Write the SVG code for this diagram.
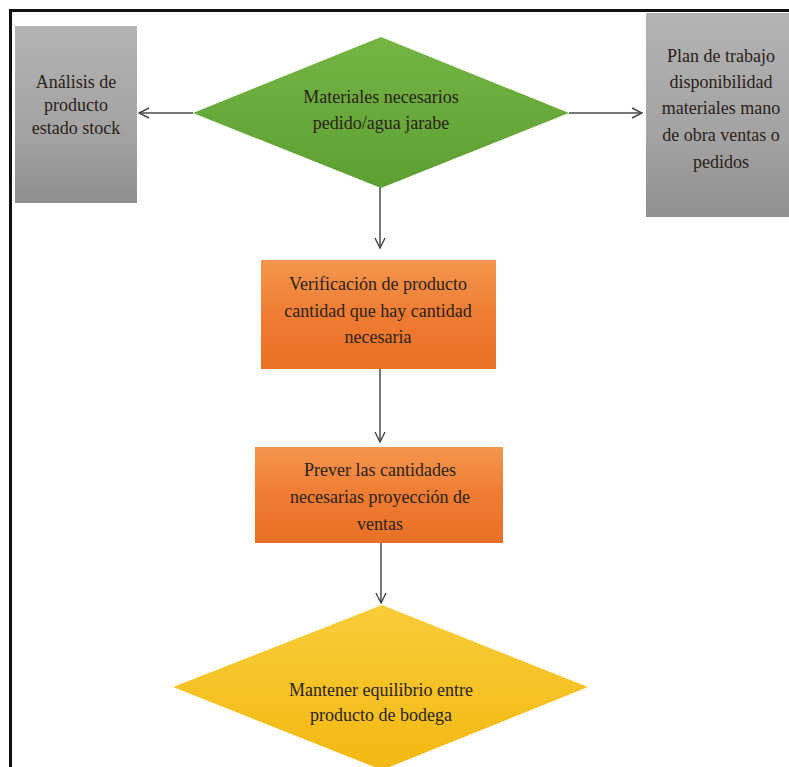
<svg xmlns="http://www.w3.org/2000/svg" width="789" height="767" viewBox="0 0 789 767">
  <defs>
    <linearGradient id="gGray" x1="0" y1="0" x2="0" y2="1">
      <stop offset="0" stop-color="#b3b3b3"/>
      <stop offset="0.6" stop-color="#a3a3a3"/>
      <stop offset="1" stop-color="#8f8f8f"/>
    </linearGradient>
    <linearGradient id="gGreen" x1="0" y1="0" x2="0" y2="1">
      <stop offset="0" stop-color="#74b545"/>
      <stop offset="1" stop-color="#5e9f33"/>
    </linearGradient>
    <linearGradient id="gOrange" x1="0" y1="0" x2="0" y2="1">
      <stop offset="0" stop-color="#f4974e"/>
      <stop offset="0.5" stop-color="#ef7c32"/>
      <stop offset="1" stop-color="#ea6f26"/>
    </linearGradient>
    <linearGradient id="gYellow" x1="0" y1="0" x2="0" y2="1">
      <stop offset="0" stop-color="#f9cd3a"/>
      <stop offset="1" stop-color="#f3b812"/>
    </linearGradient>
    <marker id="arr" viewBox="0 0 12 12" refX="11" refY="6" markerWidth="12" markerHeight="12" markerUnits="userSpaceOnUse" orient="auto">
      <path d="M1,1 L11,6 L1,11" fill="none" stroke="#444" stroke-width="1.4"/>
    </marker>
  </defs>
  <style>
    .edge { stroke: #4a4a4a; stroke-width: 1.5; fill: none; marker-end: url(#arr); }
  </style>

  <rect x="0" y="0" width="789" height="767" fill="#ffffff"/>
  <!-- frame: top and left rules -->
  <path d="M10.5,767 V10.5 H789" fill="none" stroke="#111" stroke-width="3"/>

  <g id="connectors">
    <line class="edge" x1="193" y1="113" x2="139" y2="113"/>
    <line class="edge" x1="569" y1="113" x2="642" y2="113"/>
    <line class="edge" x1="380" y1="187" x2="380" y2="248"/>
    <line class="edge" x1="380" y1="369" x2="380" y2="442"/>
    <line class="edge" x1="381" y1="543" x2="381" y2="603"/>
  </g>

  <g font-family="'Liberation Serif', 'Times New Roman', Tinos, serif" font-size="18" fill="#2b2218" text-anchor="middle">
    <g id="analisis">
      <rect x="15" y="26" width="122" height="177" fill="url(#gGray)"/>
      <text x="76" y="88">Análisis de</text>
      <text x="76" y="111">producto</text>
      <text x="76" y="134">estado stock</text>
    </g>

    <g id="materiales">
      <polygon points="381,37 569,113 381,188 193,113" fill="url(#gGreen)"/>
      <text x="381" y="103">Materiales necesarios</text>
      <text x="381" y="129">pedido/agua jarabe</text>
    </g>

    <g id="plan">
      <rect x="646" y="13" width="150" height="204" fill="url(#gGray)"/>
      <text x="721" y="62">Plan de trabajo</text>
      <text x="721" y="88">disponibilidad</text>
      <text x="721" y="114">materiales mano</text>
      <text x="721" y="141">de obra ventas o</text>
      <text x="721" y="168">pedidos</text>
    </g>

    <g id="verificacion">
      <rect x="261" y="260" width="235" height="109" fill="url(#gOrange)"/>
      <text x="378" y="290">Verificación de producto</text>
      <text x="378" y="317">cantidad que hay cantidad</text>
      <text x="378" y="343">necesaria</text>
    </g>

    <g id="prever">
      <rect x="255" y="447" width="248" height="96" fill="url(#gOrange)"/>
      <text x="380" y="476">Prever las cantidades</text>
      <text x="380" y="503">necesarias proyección de</text>
      <text x="380" y="530">ventas</text>
    </g>

    <g id="equilibrio">
      <polygon points="382,605 588,687 382,770 173,687" fill="url(#gYellow)"/>
      <text x="381" y="696">Mantener equilibrio entre</text>
      <text x="381" y="721">producto de bodega</text>
    </g>
  </g>
</svg>
